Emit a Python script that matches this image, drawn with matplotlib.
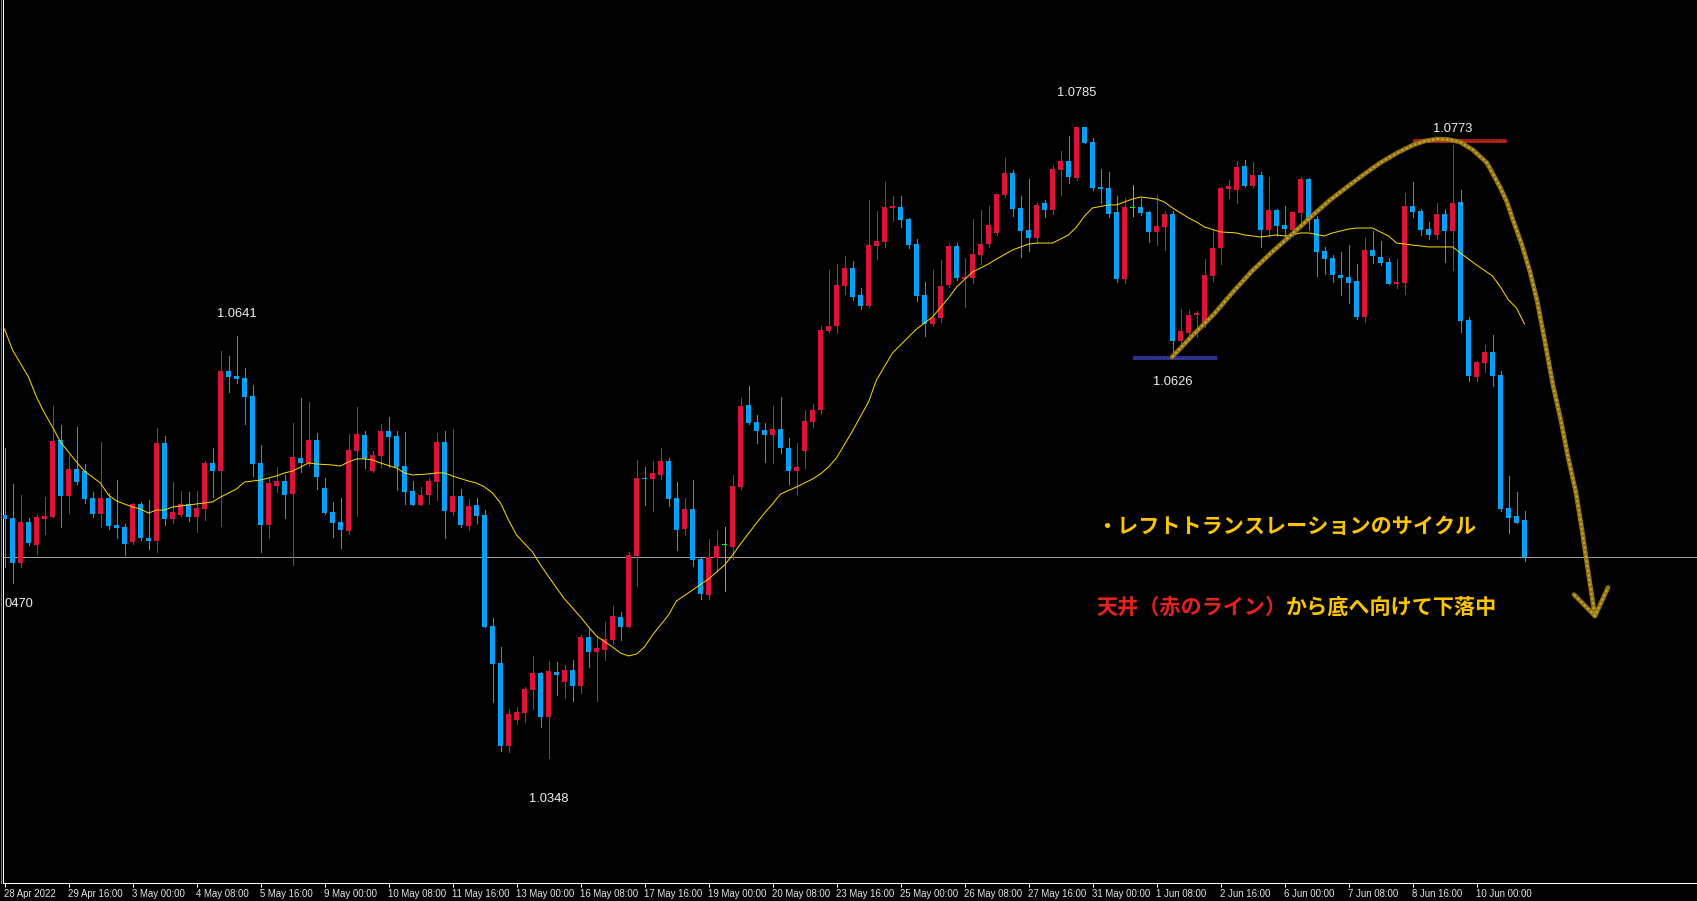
import matplotlib
matplotlib.use("Agg")
import matplotlib.pyplot as plt
import numpy as np
from matplotlib.lines import Line2D

plt.rcParams['font.family'] = ['Liberation Sans', 'Noto Sans CJK JP', 'DejaVu Sans']

# ---------------- data (EUR/USD H4) ----------------
opens = [1.05162,1.05141,1.04831,1.05113,1.04954,1.05134,1.05150,1.05681,1.05295,1.05480,
         1.05466,1.05277,1.05171,1.05279,1.05090,1.05078,1.04977,1.05238,1.05002,1.04984,
         1.05660,1.05134,1.05162,1.05238,1.05150,1.05205,1.05522,1.05469,1.06159,1.06125,
         1.06111,1.05986,1.05522,1.05094,1.05365,1.05397,1.05309,1.05557,1.05522,1.05681,
         1.05349,1.05182,1.05113,1.05053,1.05607,1.05716,1.05466,1.05572,1.05744,1.05709,
         1.05501,1.05328,1.05233,1.05300,1.05392,1.05667,1.05184,1.05293,1.05088,1.05231,
         1.05162,1.04392,1.04136,1.03563,1.03743,1.03792,1.03951,1.04067,1.03764,1.04074,
         1.04007,1.04088,1.03979,1.04318,1.04214,1.04228,1.04298,1.04457,1.04388,1.04880,
         1.05418,1.05413,1.05441,1.05538,1.05281,1.05067,1.05205,1.04859,1.04609,1.04866,
         1.04952,1.04942,1.05358,1.05924,1.05806,1.05751,1.05718,1.05757,1.05626,1.05469,
         1.05607,1.05808,1.05889,1.06437,1.06471,1.06750,1.06873,1.06686,1.06612,1.07028,
         1.07055,1.07291,1.07296,1.07213,1.07039,1.06686,1.06487,1.06529,1.06757,1.07025,
         1.06799,1.06806,1.06965,1.07041,1.07116,1.07381,1.07531,1.07291,1.07138,1.07083,
         1.07323,1.07277,1.07554,1.07616,1.07499,1.07850,1.07748,1.07436,1.07429,1.07261,
         1.06799,1.07291,1.07296,1.07261,1.07125,1.07159,1.07247,1.06369,1.06425,1.06549,
         1.06494,1.06820,1.07014,1.07423,1.07416,1.07582,1.07443,1.07520,1.07138,1.07277,
         1.07171,1.07138,1.07254,1.07490,1.07215,1.06991,1.06942,1.06827,1.06813,1.06783,
         1.06536,1.07000,1.06951,1.06917,1.06764,1.06771,1.07305,1.07270,1.07145,1.07104,
         1.07249,1.07131,1.07332,1.06515,1.06120,1.06217,1.06293,1.06134,1.05212,1.05157,
         1.05129]
highs = [1.05624,1.05376,1.05300,1.05141,1.05162,1.05286,1.05917,1.05785,1.05577,1.05771,
         1.05515,1.05321,1.05665,1.05312,1.05404,1.05099,1.05247,1.05254,1.05265,1.05762,
         1.05709,1.05392,1.05328,1.05321,1.05328,1.05536,1.05626,1.06298,1.06263,1.06402,
         1.06180,1.06062,1.05647,1.05416,1.05494,1.05439,1.05797,1.05972,1.05945,1.05730,
         1.05418,1.05254,1.05279,1.05723,1.05910,1.05744,1.05605,1.05792,1.05841,1.05744,
         1.05737,1.05397,1.05356,1.05418,1.05730,1.05744,1.05757,1.05342,1.05272,1.05279,
         1.05196,1.04448,1.04247,1.03817,1.03831,1.03970,1.04185,1.04074,1.04150,1.04143,
         1.04122,1.04157,1.04332,1.04372,1.04325,1.04422,1.04533,1.04492,1.04907,1.05545,
         1.05496,1.05538,1.05628,1.05559,1.05392,1.05281,1.05406,1.04866,1.04997,1.05060,
         1.05078,1.05441,1.05974,1.06058,1.05857,1.05801,1.05919,1.05981,1.05695,1.05660,
         1.05891,1.05933,1.06471,1.06859,1.06901,1.06956,1.06922,1.06734,1.07344,1.07268,
         1.07469,1.07372,1.07372,1.07222,1.07074,1.06776,1.06859,1.06928,1.07046,1.07046,
         1.06944,1.07213,1.07275,1.07303,1.07386,1.07635,1.07554,1.07374,1.07492,1.07325,
         1.07346,1.07589,1.07686,1.07790,1.07852,1.07852,1.07774,1.07561,1.07540,1.07374,
         1.07360,1.07448,1.07360,1.07270,1.07379,1.07270,1.07270,1.06591,1.06584,1.06577,
         1.06937,1.07136,1.07436,1.07485,1.07616,1.07623,1.07610,1.07540,1.07506,1.07284,
         1.07303,1.07261,1.07504,1.07497,1.07235,1.07021,1.06965,1.06986,1.07032,1.06903,
         1.07083,1.07131,1.07062,1.06944,1.06937,1.07393,1.07471,1.07284,1.07194,1.07325,
         1.07284,1.07727,1.07416,1.06536,1.06231,1.06342,1.06411,1.06161,1.05434,1.05323,
         1.05191]
lows = [1.04799,1.04690,1.04799,1.04954,1.04891,1.05030,1.05146,1.05081,1.05173,1.05374,
        1.05247,1.05150,1.05081,1.05065,1.05004,1.04886,1.04963,1.04990,1.04928,1.04907,
        1.05092,1.05108,1.05155,1.05122,1.05046,1.05129,1.05288,1.05088,1.06016,1.06078,
        1.05794,1.05434,1.04907,1.05004,1.05319,1.05143,1.04813,1.05462,1.05503,1.05342,
        1.05166,1.05011,1.04935,1.05032,1.05157,1.05487,1.05460,1.05496,1.05496,1.05337,
        1.05240,1.05233,1.05233,1.05240,1.05268,1.04999,1.05164,1.05081,1.05060,1.05108,
        1.04388,1.03868,1.03528,1.03522,1.03716,1.03729,1.03819,1.03695,1.03480,1.03916,
        1.03896,1.03875,1.03930,1.04110,1.03875,1.04159,1.04270,1.04298,1.04388,1.04672,
        1.05233,1.05191,1.05413,1.05226,1.04921,1.05025,1.04810,1.04582,1.04582,1.04769,
        1.04637,1.04859,1.05344,1.05794,1.05663,1.05531,1.05524,1.05593,1.05378,1.05309,
        1.05489,1.05773,1.05861,1.06430,1.06423,1.06695,1.06653,1.06591,1.06605,1.06937,
        1.07021,1.07201,1.07159,1.07014,1.06647,1.06404,1.06473,1.06501,1.06743,1.06792,
        1.06605,1.06771,1.06903,1.07021,1.07104,1.07367,1.07235,1.06951,1.06993,1.07048,
        1.07228,1.07249,1.07381,1.07464,1.07485,1.07741,1.07416,1.07325,1.07228,1.06778,
        1.06771,1.07233,1.07242,1.07053,1.07035,1.07000,1.06258,1.06349,1.06369,1.06397,
        1.06466,1.06785,1.06903,1.07360,1.07325,1.07436,1.07436,1.07021,1.07090,1.07097,
        1.07097,1.07097,1.07159,1.07138,1.06820,1.06834,1.06778,1.06688,1.06633,1.06522,
        1.06501,1.06910,1.06896,1.06764,1.06737,1.06695,1.07228,1.07104,1.07076,1.07076,
        1.06917,1.06861,1.06432,1.06092,1.06092,1.06155,1.06058,1.05191,1.05039,1.05108,
        1.04845]
closes = [1.05134,1.04831,1.05113,1.04965,1.05146,1.05155,1.05674,1.05293,1.05480,1.05392,
          1.05272,1.05171,1.05277,1.05088,1.05074,1.04963,1.05238,1.05000,1.04984,1.05660,
          1.05134,1.05182,1.05238,1.05150,1.05210,1.05522,1.05469,1.06159,1.06120,1.06104,
          1.05981,1.05517,1.05094,1.05383,1.05397,1.05302,1.05563,1.05522,1.05681,1.05427,
          1.05177,1.05108,1.05060,1.05612,1.05723,1.05550,1.05577,1.05744,1.05704,1.05494,
          1.05323,1.05233,1.05300,1.05397,1.05667,1.05191,1.05293,1.05092,1.05224,1.05157,
          1.04388,1.04131,1.03563,1.03785,1.03797,1.03956,1.04067,1.03764,1.04081,1.04055,
          1.04088,1.03979,1.04318,1.04214,1.04242,1.04304,1.04464,1.04388,1.04886,1.05420,
          1.05411,1.05453,1.05538,1.05275,1.05060,1.05205,1.04852,1.04616,1.04873,1.04949,
          1.04952,1.05363,1.05919,1.05801,1.05746,1.05718,1.05757,1.05628,1.05469,1.05496,
          1.05813,1.05889,1.06443,1.06471,1.06755,1.06873,1.06674,1.06612,1.07032,1.07060,
          1.07296,1.07303,1.07208,1.07035,1.06681,1.06487,1.06529,1.06748,1.07025,1.06806,
          1.06813,1.06970,1.07039,1.07171,1.07386,1.07531,1.07284,1.07131,1.07083,1.07312,
          1.07277,1.07561,1.07616,1.07506,1.07850,1.07741,1.07429,1.07423,1.07249,1.06795,
          1.07298,1.07291,1.07256,1.07125,1.07164,1.07247,1.06369,1.06439,1.06549,1.06563,
          1.06825,1.07014,1.07429,1.07441,1.07573,1.07443,1.07520,1.07138,1.07277,1.07166,
          1.07145,1.07259,1.07490,1.07208,1.06986,1.06937,1.06827,1.06806,1.06771,1.06536,
          1.07000,1.06958,1.06910,1.06764,1.06778,1.07305,1.07263,1.07138,1.07104,1.07249,
          1.07131,1.07325,1.06508,1.06127,1.06224,1.06293,1.06127,1.05205,1.05143,1.05108,
          1.04871]

# moving average line, read at sample bars
ma_bar = [0,1,3,4,5,6,7,8,9,10,12,13,14,16,17,18,19,20,21,23,25,26,27,29,30,32,34,35,36,37,38,39,
          41,42,43,44,45,46,47,49,50,51,53,54,55,56,58,59,60,61,62,63,64,66,67,69,70,72,73,74,76,77,
          78,79,80,81,83,84,86,88,89,90,91,92,94,95,96,97,99,101,102,103,104,106,108,109,111,113,114,
          116,118,119,121,123,124,126,128,129,131,133,134,135,136,138,139,141,142,144,145,146,148,149,
          150,152,154,155,157,159,160,161,162,163,165,166,168,169,171,173,174,176,177,178,179,181,182,
          183,184,186,187,188,189,190]
ma_val = [1.06450,1.06305,1.06118,1.05979,1.05868,1.05771,1.05667,1.05598,1.05529,1.05466,1.05383,
          1.05300,1.05259,1.05217,1.05203,1.05175,1.05196,1.05196,1.05217,1.05231,1.05245,1.05252,
          1.05286,1.05342,1.05390,1.05404,1.05432,1.05453,1.05466,1.05494,1.05522,1.05515,1.05508,
          1.05501,1.05529,1.05550,1.05550,1.05543,1.05522,1.05487,1.05453,1.05439,1.05446,1.05453,
          1.05453,1.05432,1.05397,1.05383,1.05356,1.05314,1.05245,1.05127,1.05023,1.04905,1.04815,
          1.04656,1.04580,1.04455,1.04386,1.04323,1.04247,1.04205,1.04185,1.04198,1.04247,1.04330,
          1.04469,1.04566,1.04642,1.04718,1.04767,1.04815,1.04884,1.04961,1.05106,1.05175,1.05238,
          1.05307,1.05356,1.05411,1.05446,1.05494,1.05557,1.05744,1.05945,1.06097,1.06284,1.06395,
          1.06450,1.06534,1.06665,1.06741,1.06845,1.06901,1.06935,1.06998,1.07039,1.07046,1.07046,
          1.07102,1.07157,1.07233,1.07289,1.07310,1.07310,1.07351,1.07365,1.07351,1.07330,1.07289,
          1.07220,1.07192,1.07157,1.07123,1.07116,1.07102,1.07088,1.07102,1.07095,1.07102,1.07116,
          1.07116,1.07095,1.07116,1.07143,1.07150,1.07150,1.07095,1.07046,1.07032,1.07026,1.07019,
          1.07019,1.07019,1.06977,1.06935,1.06894,1.06818,1.06741,1.06651,1.06596,1.06485]

# price labels
label_text = ["1.0785", "1.0641", "1.0626", "1.0348", "1.0773"]
label_bar = [134, 29, 146, 68, 181]
label_price = [1.08086, 1.06552, 1.06083, 1.03194, 1.07836]

# time axis
tick_bars = list(range(0, 185, 8))
tick_labels = ["28 Apr 2022", "29 Apr 16:00", "3 May 00:00", "4 May 08:00", "5 May 16:00",
               "9 May 00:00", "10 May 08:00", "11 May 16:00", "13 May 00:00", "16 May 08:00",
               "17 May 16:00", "19 May 00:00", "20 May 08:00", "23 May 16:00", "25 May 00:00",
               "26 May 08:00", "27 May 16:00", "31 May 00:00", "1 Jun 08:00", "2 Jun 16:00",
               "6 Jun 00:00", "7 Jun 08:00", "8 Jun 16:00", "10 Jun 00:00"]

# hand-drawn annotations (bar position, price)
arc_bar = [145.94,148.56,151.19,153.56,155.94,158.31,160.69,163.56,165.69,167.81,169.81,171.94,
           174.06,176.06,177.56,179.06,180.56,181.94,183.56,185.31,186.94,187.81,188.56,189.69,
           190.69,191.56,192.63,193.56,194.56,195.44,196.44,197.19,197.81,198.31,198.81]
arc_price = [1.06256,1.06409,1.06554,1.06707,1.06852,1.06977,1.07095,1.07240,1.07344,1.07434,
             1.07517,1.07601,1.07670,1.07725,1.07753,1.07767,1.07763,1.07746,1.07691,1.07601,
             1.07434,1.07330,1.07206,1.07032,1.06845,1.06651,1.06340,1.06062,1.05813,1.05563,
             1.05314,1.05058,1.04822,1.04642,1.04462]
head_bar = [196.19, 198.81, 200.44]
head_price = [1.04610, 1.04462, 1.04659]
low_line_bar = [141.1, 151.6]
low_line_price = 1.06246
high_line_bar = [176.1, 187.8]
high_line_price = 1.07754

note1 = "・レフトトランスレーションのサイクル"
note2_red = "天井（赤のライン）"
note2_gold = "から底へ向けて下落中"
note_bar = 136.44
note_price = [1.05085, 1.04524]

# ---------------- figure ----------------
W, H = 1697, 901
fig = plt.figure(figsize=(W / 100, H / 100), dpi=100, facecolor='black')
ax = fig.add_axes([3 / W, 18 / H, 1694 / W, 883 / H])
ax.set_facecolor('black')
ax.set_xlim(-0.1875, 211.5625)
ax.set_ylim(1.026117, 1.08730)

PX = 0.72  # one pixel in points
UP, DOWN, DOJI = '#DC143C', '#03A2F8', '#00FF00'

O = np.array(opens); Hh = np.array(highs); L = np.array(lows); C = np.array(closes)
x = np.arange(len(O))
cols = [UP if c > o else (DOWN if c < o else DOJI) for o, c in zip(O, C)]

# bid line
ax.axhline(C[-1], color='#A0A0A0', lw=PX, zorder=1)

# wicks and bodies
ax.vlines(x, L, Hh, colors=cols, lw=PX, antialiased=False, zorder=2)
minh = 0.00007
ax.bar(x, np.maximum(np.abs(C - O), minh), bottom=np.minimum(O, C), width=0.625,
       color=cols, linewidth=0, antialiased=False, zorder=3)

# moving average
ax.plot(ma_bar, ma_val, color='#FFD700', lw=PX, zorder=4)

# low / high marker lines (brush strokes)
ax.plot(low_line_bar, [low_line_price] * 2, color='#2C2C8A', lw=2.9, solid_capstyle='butt', zorder=5)
ax.plot(low_line_bar, [low_line_price] * 2, color='#4646B0', lw=0.9, ls=(0, (1, 2)), zorder=5)
ax.plot(high_line_bar, [high_line_price] * 2, color='#9E1C1C', lw=2.9, solid_capstyle='butt', zorder=5)
ax.plot(high_line_bar, [high_line_price] * 2, color='#C83A2A', lw=0.9, ls=(0, (1, 2)), zorder=5)

# hand-drawn arc + arrow head (brush-like)
for xs, ys in [(arc_bar, arc_price), (head_bar, head_price)]:
    ax.plot(xs, ys, color='#9E7E16', lw=3.3, solid_capstyle='round', solid_joinstyle='round',
            zorder=6, alpha=0.92)
    ax.plot(xs, ys, color='#D8B434', lw=1.3, ls=(0, (1.2, 1.4)), zorder=6, alpha=0.85)

# price labels
for t, b, p in zip(label_text, label_bar, label_price):
    ax.text(b, p, t, color='#F0F0F0', fontsize=9.3, ha='center', va='center', zorder=7)
ax.text(0.06, 1.04545, "0470", color='#F0F0F0', fontsize=9.3, ha='left', va='center', zorder=7)

# Japanese notes
GOLD, RED = '#FFC400', '#E8201E'
jp = dict(family=['Noto Sans CJK JP', 'DejaVu Sans'], fontsize=15.2, fontweight='bold')
ax.text(note_bar, note_price[0], note1, color=GOLD, ha='left', va='center', zorder=8, **jp)
t1 = ax.text(note_bar, note_price[1], note2_red, color=RED, ha='left', va='center', zorder=8, **jp)
ax.annotate(note2_gold, xy=(1, 0), xycoords=t1, ha='left', va='bottom', color=GOLD, zorder=8, **jp)

# axes styling
for s in ['top', 'right']:
    ax.spines[s].set_visible(False)
for s in ['left', 'bottom']:
    ax.spines[s].set_color('white')
    ax.spines[s].set_linewidth(PX)
ax.set_yticks([])
ax.set_xticks(tick_bars)
ax.set_xticklabels(tick_labels, ha='left', fontsize=6.9, color='#E6E6E6')
ax.tick_params(axis='x', colors='white', length=3, width=PX, pad=1.5, labelcolor='#E6E6E6')

# thin gray edge at far left
fig.add_artist(Line2D([0.5 / W, 0.5 / W], [18 / H, 1], color='#808080', lw=PX, transform=fig.transFigure))

fig.savefig('out.png', dpi=100, facecolor='black')
